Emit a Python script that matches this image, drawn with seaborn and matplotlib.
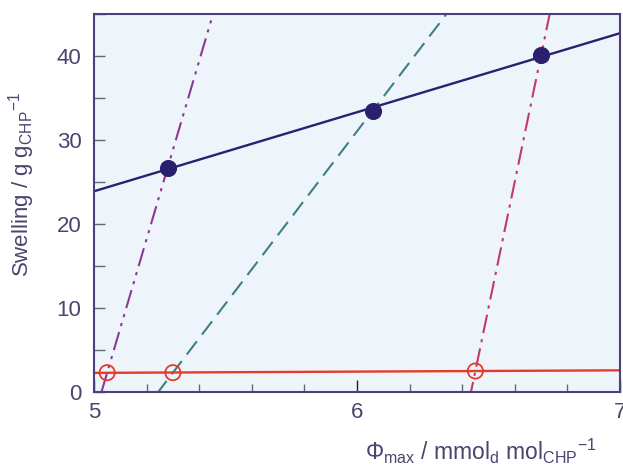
import numpy as np
import pandas as pd
import matplotlib
matplotlib.use('Agg')
import matplotlib.pyplot as plt
from matplotlib.ticker import MultipleLocator
import seaborn as sns

# swelling of the gels (filled) and reference points on the baseline (open)
phi_gel = [5.28, 6.06, 6.70]
swell_gel = [26.7, 33.5, 40.1]
phi_ref = [5.05, 5.30, 6.45]
swell_ref = [2.3, 2.3, 2.5]

tie_colors = ['#8b3a8f', '#3d7f86', '#c03a6a']
tie_dashes = [(9, 3, 1.5, 3, 1.5, 3), (8, 4), (9, 3, 1.5, 3)]

sns.set_style('ticks')
plt.rcParams['font.family'] = ['Liberation Sans', 'DejaVu Sans']
plt.rcParams['mathtext.fontset'] = 'custom'
plt.rcParams['mathtext.rm'] = 'Liberation Sans'
plt.rcParams['mathtext.it'] = 'Liberation Sans'

fig = plt.figure(figsize=(6.23, 4.72), dpi=100)
ax = fig.add_axes([0.1509, 0.1695, 0.8443, 0.8008])
ax.set_facecolor('#eef5fa')

xs = np.array([4.8, 7.2])

# tie lines between each open point and its filled point
for i in range(3):
    k = (swell_gel[i] - swell_ref[i]) / (phi_gel[i] - phi_ref[i])
    ys = np.array([-5.0, 50.0])
    px = phi_ref[i] + (ys - swell_ref[i]) / k
    d = pd.DataFrame({'x': px, 'y': ys})
    l = sns.lineplot(data=d, x='x', y='y', ax=ax, color=tie_colors[i], lw=1.5,
                     sort=False, estimator=None)
    l.lines[-1].set_dashes(tie_dashes[i])

# linear fits
p1 = np.polyfit(phi_gel, swell_gel, 1)
p2 = np.polyfit(phi_ref, swell_ref, 1)
sns.lineplot(x=xs, y=np.polyval(p1, xs), ax=ax, color='#2b2070', lw=1.7)
sns.lineplot(x=xs, y=np.polyval(p2, xs), ax=ax, color='#e8392b', lw=1.7)

sns.scatterplot(x=phi_gel, y=swell_gel, ax=ax, s=130, color='#2b2070',
                edgecolor='#2b2070', zorder=5)
sns.scatterplot(x=phi_ref, y=swell_ref, ax=ax, s=120, facecolor='none',
                edgecolor='#e8392b', linewidth=1.3, zorder=5)

ax.set_xlim(5, 7)
ax.set_ylim(0, 45)
ax.xaxis.set_major_locator(MultipleLocator(1))
ax.xaxis.set_minor_locator(MultipleLocator(0.2))
ax.yaxis.set_major_locator(MultipleLocator(10))
ax.yaxis.set_minor_locator(MultipleLocator(5))

spine_c = '#4b3f7d'
for s in ax.spines.values():
    s.set_color(spine_c)
    s.set_linewidth(1.5)
ax.tick_params(which='both', direction='in', color='#666677', width=1,
               labelcolor='#4a4470', labelsize=16)
ax.tick_params(axis='x', which='major', length=9, pad=7, color='#222222')
ax.tick_params(axis='x', which='minor', length=6)
ax.tick_params(axis='y', which='both', length=8, pad=9)

ax.set_ylabel(r'Swelling / g g$_{\mathrm{CHP}}{}^{-1}$', fontsize=16,
              color='#4a4470')
ax.yaxis.set_label_coords(-0.108, 0.55)
ax.set_xlabel(r'$\Phi_{\mathrm{max}}$ / mmol$_{\mathrm{d}}$ mol$_{\mathrm{CHP}}{}^{-1}$',
              fontsize=16.5, color='#4a4470', loc='right')
ax.xaxis.set_label_coords(0.955, -0.118)

fig.savefig('out.png', dpi=100)
